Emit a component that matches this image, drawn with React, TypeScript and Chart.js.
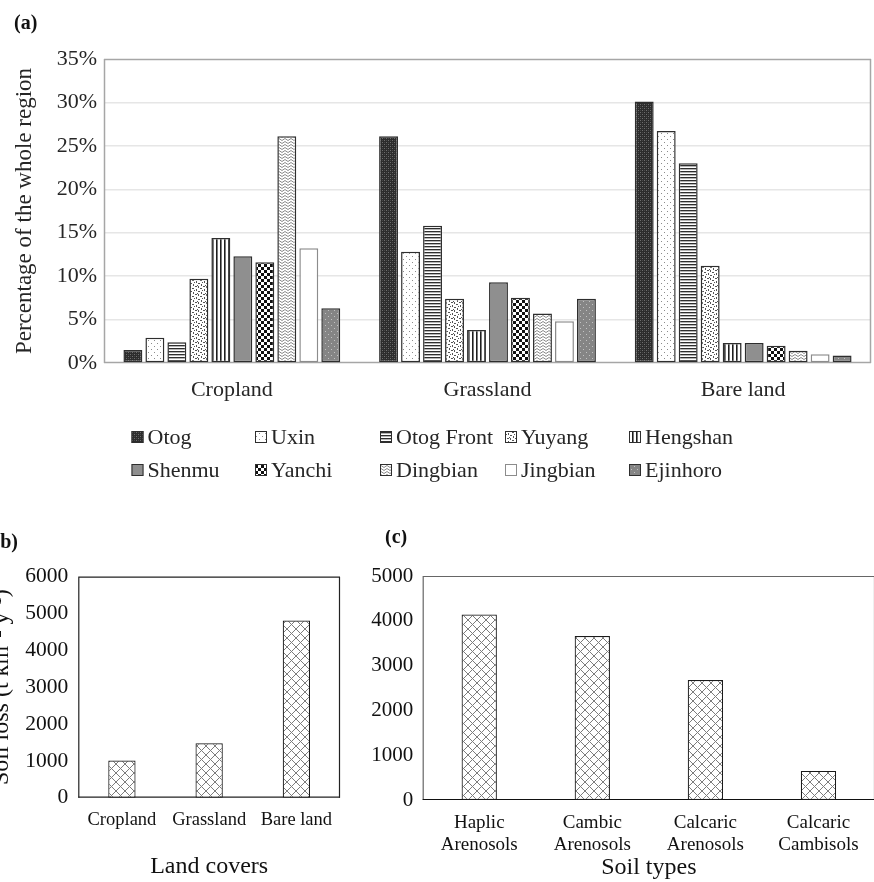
import React, { useEffect, useRef } from 'react';
import { Chart, registerables } from 'chart.js';

Chart.register(...registerables);

const FONT = "'Liberation Serif', 'Times New Roman', Times, serif";

// ---------- (a) share of each land cover by county (%) ----------
const landCovers = ['Cropland', 'Grassland', 'Bare land'];
const counties = ['Otog', 'Uxin', 'Otog Front', 'Yuyang', 'Hengshan', 'Shenmu', 'Yanchi', 'Dingbian', 'Jingbian', 'Ejinhoro'];
const otog = [1.5, 26.1, 30.1];
const uxin = [2.9, 12.8, 26.7];
const otogFront = [2.4, 15.8, 23.0];
const yuyang = [9.7, 7.4, 11.2];
const hengshan = [14.4, 3.8, 2.3];
const shenmu = [12.3, 9.3, 2.3];
const yanchi = [11.6, 7.5, 2.0];
const dingbian = [26.1, 5.7, 1.4];
const jingbian = [13.2, 4.8, 1.0];
const ejinhoro = [6.3, 7.4, 0.85];
const percentMax = 35;
const percentStep = 5;

// ---------- (b) soil loss by land cover ----------
const coverLabels = ['Cropland', 'Grassland', 'Bare land'];
const coverLoss = [1010, 1480, 4810];
const coverMax = 6000;

// ---------- (c) soil loss by soil type ----------
const soilLabels = [['Haplic', 'Arenosols'], ['Cambic', 'Arenosols'], ['Calcaric', 'Arenosols'], ['Calcaric', 'Cambisols']];
const soilLoss = [4140, 3660, 2680, 650];
const soilMax = 5000;
const lossStep = 1000;

function tile(ctx: CanvasRenderingContext2D, w: number, h: number, draw: (g: CanvasRenderingContext2D) => void) {
  const c = document.createElement('canvas');
  c.width = w;
  c.height = h;
  const g = c.getContext('2d')!;
  draw(g);
  return ctx.createPattern(c, 'repeat')!;
}

function countyFills(ctx: CanvasRenderingContext2D): (string | CanvasPattern)[] {
  const px = (g: CanvasRenderingContext2D, c: string, pts: number[][]) => {
    g.fillStyle = c;
    pts.forEach(([x, y, w, h]) => g.fillRect(x, y, w ?? 1, h ?? 1));
  };
  return [
    tile(ctx, 4, 4, g => { g.fillStyle = '#2c2c2c'; g.fillRect(0, 0, 4, 4); px(g, '#6e6e6e', [[0, 0], [2, 2]]); px(g, '#474747', [[2, 0], [0, 2]]); }),
    tile(ctx, 6, 6, g => { g.fillStyle = '#fff'; g.fillRect(0, 0, 6, 6); px(g, '#8c8c8c', [[1, 1], [4, 4]]); }),
    tile(ctx, 1, 3, g => { g.fillStyle = '#fff'; g.fillRect(0, 0, 1, 3); px(g, '#2e2e2e', [[0, 0]]); px(g, '#b5b5b5', [[0, 1]]); }),
    tile(ctx, 8, 8, g => { g.fillStyle = '#fff'; g.fillRect(0, 0, 8, 8); px(g, '#555', [[0, 0, 2, 1], [4, 1, 1, 2], [6, 3, 2, 1], [1, 4, 1, 2], [3, 6, 2, 1], [6, 6, 1, 2], [2, 2, 1, 1], [5, 5, 1, 1]]); }),
    tile(ctx, 4, 1, g => { g.fillStyle = '#fff'; g.fillRect(0, 0, 4, 1); px(g, '#1e1e1e', [[0, 0]]); px(g, '#7a7a7a', [[1, 0]]); }),
    '#8f8f8f',
    tile(ctx, 6, 6, g => { g.fillStyle = '#fff'; g.fillRect(0, 0, 6, 6); px(g, '#111', [[0, 0, 3, 3], [3, 3, 3, 3]]); }),
    tile(ctx, 6, 6, g => {
      g.fillStyle = '#fff'; g.fillRect(0, 0, 6, 6);
      g.strokeStyle = '#8a8a8a'; g.lineWidth = 1;
      g.beginPath(); g.moveTo(0, 2.5); g.lineTo(3, 0.5); g.lineTo(6, 2.5);
      g.moveTo(0, 5.5); g.lineTo(3, 3.5); g.lineTo(6, 5.5); g.stroke();
    }),
    '#ffffff',
    tile(ctx, 6, 6, g => { g.fillStyle = '#858585'; g.fillRect(0, 0, 6, 6); px(g, '#c2c2c2', [[1, 1], [4, 4]]); }),
  ];
}

function crossHatch(ctx: CanvasRenderingContext2D) {
  const s = 9;
  return tile(ctx, s, s, g => {
    g.fillStyle = '#fff';
    g.fillRect(0, 0, s, s);
    g.strokeStyle = '#7c7c7c';
    g.lineWidth = 1;
    g.beginPath();
    for (const dx of [-s, 0, s]) {
      g.moveTo(dx, 0); g.lineTo(dx + s, s);
      g.moveTo(dx + s, 0); g.lineTo(dx, s);
    }
    g.stroke();
  });
}

const panelLabel = (text: string, x: number, y: number) => ({
  id: 'panelLabel',
  afterDraw(chart: any) {
    const c = chart.ctx;
    c.save();
    c.font = `bold 20px ${FONT}`;
    c.fillStyle = '#111';
    c.textBaseline = 'middle';
    c.textAlign = 'left';
    c.fillText(text, x, y);
    c.restore();
  },
});

const frame = (color: string, width: number, sides: { top?: boolean; right?: boolean; left?: boolean; bottom?: boolean; bottomColor?: string }) => ({
  id: 'frame',
  beforeDatasetsDraw(chart: any) {
    const { left, top, right, bottom } = chart.chartArea;
    const c = chart.ctx;
    c.save();
    c.lineWidth = width;
    c.strokeStyle = color;
    c.beginPath();
    if (sides.top) { c.moveTo(left, top + 0.5); c.lineTo(right, top + 0.5); }
    if (sides.right) { c.moveTo(right - 0.5, top); c.lineTo(right - 0.5, bottom); }
    if (sides.left) { c.moveTo(left + 0.5, top); c.lineTo(left + 0.5, bottom); }
    c.stroke();
    if (sides.bottom) {
      c.strokeStyle = sides.bottomColor || color;
      c.beginPath(); c.moveTo(left, bottom - 0.5); c.lineTo(right, bottom - 0.5); c.stroke();
    }
    c.restore();
  },
});

const gridLegend = {
  id: 'gridLegend',
  afterDraw(chart: any) {
    const c = chart.ctx;
    const cols = [131.5, 255, 380, 505, 629];
    const rows = [437, 470];
    c.save();
    c.font = `22px ${FONT}`;
    c.textBaseline = 'middle';
    c.textAlign = 'left';
    chart.data.datasets.forEach((ds: any, i: number) => {
      const x = cols[i % 5];
      const y = rows[Math.floor(i / 5)];
      c.fillStyle = ds.backgroundColor;
      c.fillRect(x, y - 6, 12, 12);
      c.strokeStyle = ds.borderColor;
      c.lineWidth = 1;
      c.strokeRect(x + 0.5, y - 5.5, 11, 11);
      c.fillStyle = '#262626';
      c.fillText(ds.label, x + 16, y + 1);
    });
    c.restore();
  },
};

function makeA(canvas: HTMLCanvasElement) {
  const ctx = canvas.getContext('2d')!;
  const fills = countyFills(ctx);
  const series = [otog, uxin, otogFront, yuyang, hengshan, shenmu, yanchi, dingbian, jingbian, ejinhoro];
  return new Chart(canvas, {
    type: 'bar',
    data: {
      labels: landCovers,
      datasets: counties.map((name, i) => ({
        label: name,
        data: series[i],
        backgroundColor: fills[i] as any,
        borderColor: name === 'Jingbian' ? '#8c8c8c' : '#2e2e2e',
        borderWidth: 1.5,
        borderSkipped: false,
        categoryPercentage: 0.86,
        barPercentage: 0.86,
      })),
    },
    options: {
      responsive: false,
      animation: false,
      layout: { padding: { top: 59, right: 3, left: 0, bottom: 102 } },
      plugins: { legend: { display: false }, tooltip: { enabled: false } },
      scales: {
        x: {
          grid: { display: false, drawTicks: false },
          border: { display: false },
          ticks: { color: '#262626', font: { family: FONT, size: 22 }, padding: 14.5, maxRotation: 0, autoSkip: false },
          afterFit: (s: any) => { s.height = 45; },
        },
        y: {
          min: 0,
          max: percentMax,
          grid: {
            drawTicks: false,
            color: (c: any) => (c.tick.value === 0 || c.tick.value === percentMax ? 'rgba(0,0,0,0)' : '#e6e6e6'),
            lineWidth: 1.5,
          },
          border: { display: false },
          ticks: { stepSize: percentStep, color: '#262626', font: { family: FONT, size: 22 }, padding: 7, callback: (v: any) => `${v}%` },
          title: { display: true, text: 'Percentage of the whole region', color: '#262626', font: { family: FONT, size: 23 }, padding: { top: 11, bottom: 0 } },
          afterFit: (s: any) => { s.width = 104; },
        },
      },
    },
    plugins: [frame('#a6a6a6', 1.5, { top: true, right: true, left: true, bottom: true }), gridLegend, panelLabel('(a)', 14, 24)],
  });
}

function makeB(canvas: HTMLCanvasElement) {
  const ctx = canvas.getContext('2d')!;
  return new Chart(canvas, {
    type: 'bar',
    data: {
      labels: coverLabels,
      datasets: [{
        label: 'Soil loss',
        data: coverLoss,
        backgroundColor: crossHatch(ctx) as any,
        borderColor: '#1a1a1a',
        borderWidth: 1.2,
        borderSkipped: false,
        categoryPercentage: 1,
        barPercentage: 0.313,
      }],
    },
    options: {
      responsive: false,
      animation: false,
      layout: { padding: { top: 46.7, right: 10, left: 0, bottom: 0 } },
      plugins: { legend: { display: false }, tooltip: { enabled: false } },
      scales: {
        x: {
          grid: { display: false, drawTicks: false },
          border: { display: false },
          ticks: { color: '#111', font: { family: FONT, size: 18.5 }, padding: 11, maxRotation: 0, autoSkip: false },
          title: { display: true, text: 'Land covers', color: '#111', font: { family: FONT, size: 24 }, padding: { top: 0, bottom: 1 } },
          afterFit: (s: any) => { s.height = 84.3; },
        },
        y: {
          min: 0,
          max: coverMax,
          grid: { display: false, drawTicks: false },
          border: { display: false },
          ticks: { stepSize: lossStep, color: '#111', font: { family: FONT, size: 21.5 }, padding: 10, callback: (v: any) => String(v) },
          title: { display: true, text: 'Soil loss (t km⁻² y⁻¹)', color: '#111', font: { family: FONT, size: 24 }, padding: { top: -3, bottom: 0 } },
          afterFit: (s: any) => { s.width = 88.3; },
        },
      },
    },
    plugins: [frame('#222', 1.2, { top: true, right: true, left: true, bottom: true }), panelLabel('(b)', 3.5, 13)],
  });
}

function makeC(canvas: HTMLCanvasElement) {
  const ctx = canvas.getContext('2d')!;
  return new Chart(canvas, {
    type: 'bar',
    data: {
      labels: soilLabels as any,
      datasets: [{
        label: 'Soil loss',
        data: soilLoss,
        backgroundColor: crossHatch(ctx) as any,
        borderColor: '#1a1a1a',
        borderWidth: 1.2,
        borderSkipped: false,
        categoryPercentage: 1,
        barPercentage: 0.312,
      }],
    },
    options: {
      responsive: false,
      animation: false,
      layout: { padding: { top: 46, right: 15, left: 0, bottom: 0 } },
      plugins: { legend: { display: false }, tooltip: { enabled: false } },
      scales: {
        x: {
          grid: { display: false, drawTicks: false },
          border: { display: false },
          ticks: { color: '#111', font: { family: FONT, size: 19, lineHeight: 1.15 }, padding: 12.4, maxRotation: 0, autoSkip: false },
          title: { display: true, text: 'Soil types', color: '#111', font: { family: FONT, size: 24 }, padding: { top: 0, bottom: 0 } },
          afterFit: (s: any) => { s.height = 82; },
        },
        y: {
          min: 0,
          max: soilMax,
          grid: { display: false, drawTicks: false },
          border: { display: false },
          ticks: { stepSize: lossStep, color: '#111', font: { family: FONT, size: 21 }, padding: 9.4, callback: (v: any) => String(v) },
          afterFit: (s: any) => { s.width = 62.7; },
        },
      },
    },
    plugins: [frame('#666', 1.2, { top: true, right: true, left: true, bottom: true, bottomColor: '#111' }), panelLabel('(c)', 25, 8)],
  });
}

export default function App() {
  const aRef = useRef<HTMLCanvasElement>(null);
  const bRef = useRef<HTMLCanvasElement>(null);
  const cRef = useRef<HTMLCanvasElement>(null);

  useEffect(() => {
    const charts = [makeA(aRef.current!), makeB(bRef.current!), makeC(cRef.current!)];
    return () => charts.forEach(ch => ch.destroy());
  }, []);

  return (
    <div style={{ position: 'fixed', left: 0, top: 0, width: 874, height: 882, overflow: 'hidden', background: '#fff' }}>
      <canvas ref={aRef} width={874} height={510} style={{ position: 'absolute', left: 0, top: 0, width: 874, height: 510 }} />
      <canvas ref={bRef} width={360} height={352} style={{ position: 'absolute', left: -10, top: 530, width: 360, height: 352 }} />
      <canvas ref={cRef} width={530} height={352} style={{ position: 'absolute', left: 360, top: 530, width: 530, height: 352 }} />
    </div>
  );
}
